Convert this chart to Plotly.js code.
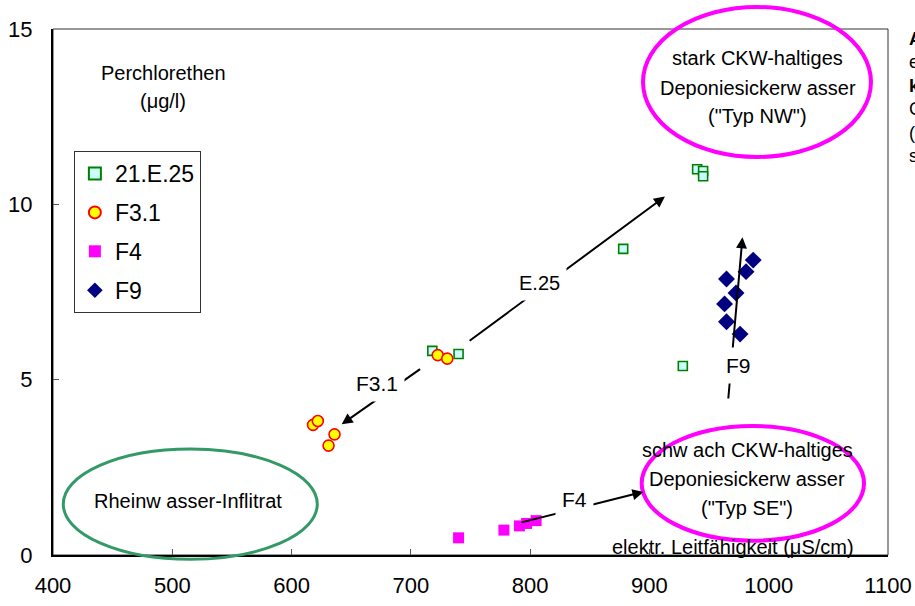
<!DOCTYPE html>
<html>
<head>
<meta charset="utf-8">
<script src="https://cdn.plot.ly/plotly-3.0.1.min.js"></script>
<style>html,body{margin:0;padding:0;background:#fff;overflow:hidden}#chart{width:915px;height:606px}</style>
</head>
<body>
<div id="chart"></div>
<script>
// Series names
const seriesNames = ["21.E.25", "F3.1", "F4", "F9"];
// elektr. Leitfähigkeit (µS/cm) / Perchlorethen (µg/l)
const e25X = [718, 740, 878, 928, 940, 945, 945];
const e25Y = [5.82, 5.73, 8.73, 5.39, 11.0, 10.95, 10.8];
const f31X = [722.5, 730.5, 618, 622, 636, 631];
const f31Y = [5.70, 5.60, 3.71, 3.82, 3.44, 3.12];
const f4X = [740, 778, 791, 797, 805];
const f4Y = [0.49, 0.71, 0.83, 0.90, 0.98];
const f9X = [987, 981, 964.6, 972.6, 963, 964.6, 976];
const f9Y = [8.41, 8.08, 7.87, 7.47, 7.16, 6.65, 6.30];
// Axis ticks
const xTicks = [400, 500, 600, 700, 800, 900, 1000, 1100];
const yTicks = [0, 5, 10, 15];

const FONT = "Liberation Sans, Arial, sans-serif";

const traces = [
  {x: e25X, y: e25Y, name: seriesNames[0], legendgroup: "a", mode: "markers", type: "scatter",
   marker: {symbol: "square", size: 9, color: "#ccffff", line: {color: "#008000", width: 1.6}}},
  {x: f31X, y: f31Y, name: seriesNames[1], legendgroup: "b", mode: "markers", type: "scatter",
   marker: {symbol: "circle", size: 11, color: "#ffff00", line: {color: "#ff0000", width: 1.6}}},
  {x: f4X, y: f4Y, name: seriesNames[2], legendgroup: "c", mode: "markers", type: "scatter",
   marker: {symbol: "square", size: 11, color: "#ff00ff", line: {width: 0}}},
  {x: f9X, y: f9Y, name: seriesNames[3], legendgroup: "d", mode: "markers", type: "scatter",
   marker: {symbol: "diamond", size: 13, color: "#000080", line: {width: 0}}}
];

function arrow(x, y, ax, ay) {
  return {x: x, y: y, ax: ax, ay: ay, xref: "x", yref: "y", axref: "x", ayref: "y",
    text: "", showarrow: true, arrowhead: 2, arrowsize: 1.1, arrowwidth: 2, arrowcolor: "#000"};
}
function label(t, x, y, size, bg) {
  return {x: x, y: y, xref: "x", yref: "y", text: t, showarrow: false,
    font: {family: FONT, size: size, color: "#000"},
    bgcolor: bg ? "#fff" : "rgba(0,0,0,0)", borderpad: bg ? 6 : 0,
    xanchor: "center", yanchor: "middle"};
}

const annotations = [
  arrow(913, 10.22, 748, 6.08),
  arrow(642, 3.73, 709, 5.33),
  arrow(978, 9.06, 966, 4.42),
  arrow(895, 1.8, 791.5, 0.92),
  label("E.25", 808, 7.75, 20, true),
  label("F3.1", 672, 4.9, 21, true),
  label("F9", 975, 5.39, 21, true),
  label("F4", 837.5, 1.59, 21, true),
  label("Perchlorethen", 492.6, 13.74, 20, false),
  label("(\u03bcg/l)", 492.2, 12.95, 20, false),
  label("stark CKW-haltiges", 991, 14.17, 20, false),
  label("Deponiesickerw asser", 991, 13.32, 20, false),
  label("(\"Typ NW\")", 991, 12.52, 20, false),
  label("schw ach CKW-haltiges", 981.8, 2.99, 20, false),
  label("Deponiesickerw asser", 981.8, 2.17, 20, false),
  label("(\"Typ SE\")", 981.8, 1.35, 20, false),
  label("elektr. Leitf\u00e4higkeit (\u03bcS/cm)", 970, 0.24, 20, false),
  label("Rheinw asser-Inflitrat", 513.4, 1.54, 20, false),
  {x: 1.0228, y: 1.003, xref: "paper", yref: "paper", xanchor: "left", yanchor: "top", align: "left",
   showarrow: false, text: "<b>A</b><br>e<br><b>k</b><br>C<br>(<br>s",
   font: {family: FONT, size: 18, color: "#000"}}
];

const shapes = [
  {type: "rect", xref: "paper", yref: "paper", x0: 0, x1: 1, y0: 0, y1: 1,
   line: {color: "#333", width: 1}, layer: "below"},
  {type: "circle", xref: "paper", yref: "paper", x0: 0.0123, x1: 0.3165, y0: -0.0082, y1: 0.2015,
   line: {color: "#339966", width: 3}},
  {type: "circle", xref: "paper", yref: "paper", x0: 0.7066, x1: 0.9796, y0: 0.7567, y1: 1.0418,
   line: {color: "#ff00ff", width: 4}},
  {type: "circle", xref: "paper", yref: "paper", x0: 0.705, x1: 0.9713, y0: 0.0272, y1: 0.2452,
   line: {color: "#ff00ff", width: 4}}
];

const layout = {
  width: 915, height: 606, autosize: false,
  margin: {l: 53, r: 27, t: 29, b: 51, pad: 0},
  paper_bgcolor: "#fff", plot_bgcolor: "#fff",
  font: {family: FONT, color: "#000"},
  showlegend: true,
  legend: {x: 0.025, y: 0.768, xanchor: "left", yanchor: "top", bgcolor: "#fff",
    bordercolor: "#333", borderwidth: 1, font: {family: FONT, size: 23, color: "#000"},
    tracegroupgap: 6, itemsizing: "constant", itemwidth: 30, traceorder: "grouped"},
  xaxis: {range: [400, 1100], tickvals: xTicks, showgrid: false, zeroline: false,
    showline: true, linecolor: "#000", linewidth: 2, ticks: "inside", ticklen: 6,
    tickcolor: "#555", tickwidth: 1, tickfont: {family: FONT, size: 22, color: "#000"},
    ticklabelstandoff: 10, fixedrange: true},
  yaxis: {range: [0, 15], tickvals: yTicks, showgrid: false, zeroline: false,
    showline: true, linecolor: "#000", linewidth: 2, ticks: "inside", ticklen: 6,
    tickcolor: "#555", tickwidth: 1, tickfont: {family: FONT, size: 22, color: "#000"},
    ticklabelstandoff: 14, fixedrange: true},
  shapes: shapes,
  annotations: annotations
};

Plotly.newPlot("chart", traces, layout, {displayModeBar: false, staticPlot: true});
</script>
</body>
</html>
